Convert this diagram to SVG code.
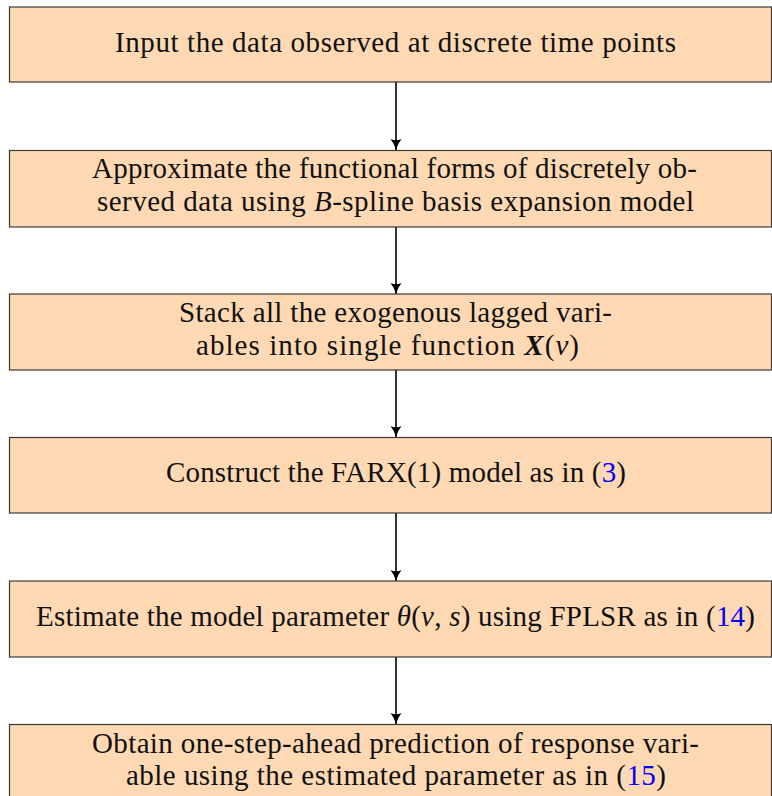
<svg xmlns="http://www.w3.org/2000/svg" width="772" height="796" viewBox="0 0 772 796">
<defs>
<style>
.box{fill:#FFD9B3;stroke:#3a3a3a;stroke-width:1.2}
.t{font-family:"Liberation Serif","Times New Roman",serif;font-size:29px;fill:#111}
.i{font-style:italic}
.b{font-weight:bold;font-style:italic}
.ref{fill:#0000FF}
.edge{stroke:#000;stroke-width:1.6;fill:none}
</style>
<marker id="ah" markerUnits="userSpaceOnUse" markerWidth="12" markerHeight="12" viewBox="0 0 12 12" refX="11" refY="6" orient="auto">
<path d="M0,0.5 Q5,4.5 11,6 Q5,7.5 0,11.5 Q2.5,6 0,0.5 Z" fill="#000"/>
</marker>
</defs>
<g id="connectors">
<line class="edge" x1="396" y1="82" x2="396" y2="150" marker-end="url(#ah)"/>
<line class="edge" x1="396" y1="227" x2="396" y2="294" marker-end="url(#ah)"/>
<line class="edge" x1="396" y1="370" x2="396" y2="437" marker-end="url(#ah)"/>
<line class="edge" x1="396" y1="513" x2="396" y2="581" marker-end="url(#ah)"/>
<line class="edge" x1="396" y1="657" x2="396" y2="724" marker-end="url(#ah)"/>
</g>
<g id="n1">
<rect class="box" x="9.5" y="7" width="762" height="75"/>
<text class="t" x="115" y="52" textLength="561" lengthAdjust="spacing">Input the data observed at discrete time points</text>
</g>
<g id="n2">
<rect class="box" x="9.5" y="150.5" width="762" height="76.5"/>
<text class="t" x="92" y="178" textLength="605" lengthAdjust="spacing">Approximate the functional forms of discretely ob-</text>
<text class="t" x="97" y="211" textLength="597" lengthAdjust="spacing">served data using <tspan class="i">B</tspan>-spline basis expansion model</text>
</g>
<g id="n3">
<rect class="box" x="9.5" y="294" width="762" height="76"/>
<text class="t" x="179" y="322" textLength="433" lengthAdjust="spacing">Stack all the exogenous lagged vari-</text>
<text class="t" x="196" y="355" textLength="383" lengthAdjust="spacing">ables into single function <tspan class="b">X</tspan>(<tspan class="i">ν</tspan>)</text>
</g>
<g id="n4">
<rect class="box" x="9.5" y="437.5" width="762" height="75.5"/>
<text class="t" x="166" y="482" textLength="460" lengthAdjust="spacing">Construct the FARX(1) model as in (<tspan class="ref">3</tspan>)</text>
</g>
<g id="n5">
<rect class="box" x="9.5" y="581" width="762" height="76"/>
<text class="t" x="36" y="626" textLength="719" lengthAdjust="spacing">Estimate the model parameter <tspan class="i">θ</tspan>(<tspan class="i">ν</tspan>, <tspan class="i">s</tspan>) using FPLSR as in (<tspan class="ref">14</tspan>)</text>
</g>
<g id="n6">
<rect class="box" x="9.5" y="724.5" width="762" height="80"/>
<text class="t" x="92" y="753" textLength="607" lengthAdjust="spacing">Obtain one-step-ahead prediction of response vari-</text>
<text class="t" x="126" y="785" textLength="540" lengthAdjust="spacing">able using the estimated parameter as in (<tspan class="ref">15</tspan>)</text>
</g>
</svg>
